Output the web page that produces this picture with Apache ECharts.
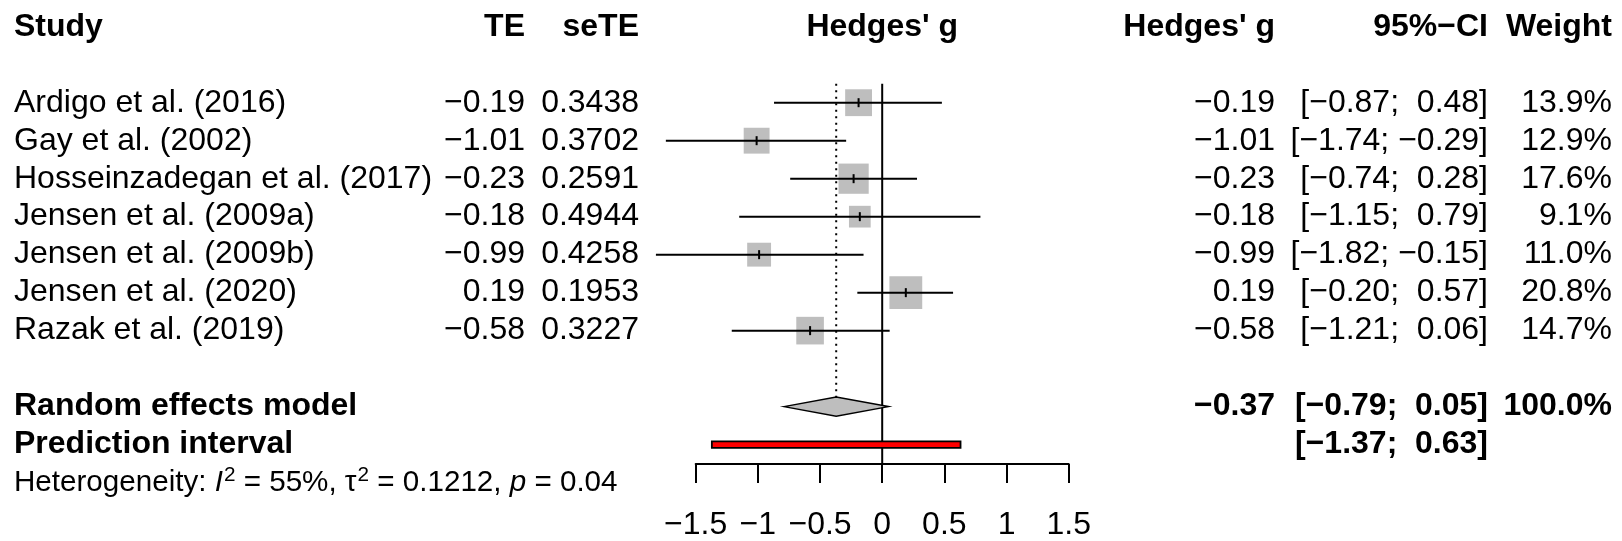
<!DOCTYPE html>
<html>
<head>
<meta charset="utf-8">
<script src="https://cdn.jsdelivr.net/npm/echarts@6/dist/echarts.min.js"></script>
<style>
html,body{margin:0;padding:0;background:#fff;}
#chart{width:1622px;height:541px;}
</style>
</head>
<body>
<div id="chart"></div>
<script>
// ---- data ----
const studies = ["Ardigo et al. (2016)", "Gay et al. (2002)", "Hosseinzadegan et al. (2017)",
  "Jensen et al. (2009a)", "Jensen et al. (2009b)", "Jensen et al. (2020)", "Razak et al. (2019)"];
const te     = [-0.19, -1.01, -0.23, -0.18, -0.99, 0.19, -0.58];
const seTE   = [0.3438, 0.3702, 0.2591, 0.4944, 0.4258, 0.1953, 0.3227];
const lower  = [-0.87, -1.74, -0.74, -1.15, -1.82, -0.20, -1.21];
const upper  = [0.48, -0.29, 0.28, 0.79, -0.15, 0.57, 0.06];
const weight = [13.9, 12.9, 17.6, 9.1, 11.0, 20.8, 14.7];
const pooled = [-0.37, -0.79, 0.05];      // estimate, lower, upper
const pooledWeight = 100.0;
const predInt = [-1.37, 0.63];
const hetI2 = 55, hetTau2 = 0.1212, hetP = 0.04;
const headers = ["Study", "TE", "seTE", "Hedges' g", "Hedges' g", "95%\u2212CI", "Weight"];
const xTicks = [-1.5, -1, -0.5, 0, 0.5, 1, 1.5];
const summaryLabels = ["Random effects model", "Prediction interval"];

// ---- layout ----
const FONT = "Liberation Sans";
const FS = 32;
const ROW_H = 38.4, ROW0 = 27;      // pixel of row 0 centre
const AXIS_Y = 469;
const GRID_L = 695.7, GRID_W = 373;
const yMin = -ROW0 / ROW_H, yMax = (AXIS_Y - ROW0) / ROW_H;
const STUDY_ROW0 = 2, RE_ROW = 10, PI_ROW = 11, HET_ROW = 12;
const COL = {study: 14, te: 525, sete: 639, g: 1275, ci: 1488, w: 1612};

const fmtNum = (v, d) => (v < 0 ? "\u2212" : "") + Math.abs(v).toFixed(d);
const fmtCI = (l, u) => "[" + fmtNum(l, 2) + "; " + (u < 0 ? "" : " ") + fmtNum(u, 2) + "]";

function txt(x, y, s, align, bold) {
  return {type: 'text', x: x, y: y, style: {text: s, fontFamily: FONT, fontSize: FS,
    fontWeight: bold ? 'bold' : 'normal', fill: '#000', align: align, verticalAlign: 'middle'}};
}

const studyData = studies.map((s, i) => [te[i], STUDY_ROW0 + i, lower[i], upper[i], weight[i], seTE[i]]);

const chart = echarts.init(document.getElementById('chart'), null, {renderer: 'canvas'});
chart.setOption({
  animation: false,
  backgroundColor: '#fff',
  grid: {left: GRID_L, width: GRID_W, top: 0, height: AXIS_Y, containLabel: false},
  xAxis: {
    type: 'value', min: -1.5, max: 1.5, interval: 0.5,
    axisLine: {show: true, onZero: false, lineStyle: {color: '#000', width: 2}},
    axisTick: {show: true, length: 19, lineStyle: {color: '#000', width: 2}},
    axisLabel: {color: '#000', fontFamily: FONT, fontSize: FS, margin: 45,
      formatter: v => (v < 0 ? "\u2212" : "") + String(Math.abs(v))},
    splitLine: {show: false}
  },
  yAxis: {type: 'value', inverse: true, min: yMin, max: yMax, show: false},
  series: [
    // reference lines, summary diamond, prediction interval
    {
      type: 'custom', clip: false, silent: true, z: 1,
      data: [[pooled[0], RE_ROW, pooled[1], pooled[2], predInt[0], predInt[1]]],
      renderItem: function (params, api) {
        const est = api.value(0), row = api.value(1), lo = api.value(2), up = api.value(3);
        const pl = api.value(4), pu = api.value(5);
        const z0 = api.coord([0, STUDY_ROW0 - 0.5]);
        const z1 = api.coord([0, yMax]);
        const d0 = api.coord([est, STUDY_ROW0 - 0.5]);
        const dh = 9.5;
        const c = api.coord([est, row]);
        const l = api.coord([lo, row]);
        const u = api.coord([up, row]);
        const p1 = api.coord([pl, PI_ROW]);
        const p2 = api.coord([pu, PI_ROW]);
        return {type: 'group', children: [
          {type: 'line', shape: {x1: z0[0], y1: z0[1], x2: z1[0], y2: z1[1]},
            style: {stroke: '#000', lineWidth: 2}},
          {type: 'line', shape: {x1: d0[0], y1: d0[1], x2: c[0], y2: c[1] - dh},
            style: {stroke: '#000', lineWidth: 2, lineDash: [2, 4.5]}},
          {type: 'polygon', shape: {points: [[l[0], l[1]], [c[0], c[1] - dh], [u[0], u[1]], [c[0], c[1] + dh]]},
            style: {fill: '#BEBEBE', stroke: '#000', lineWidth: 1.5}},
          {type: 'rect', shape: {x: p1[0], y: p1[1] - 3.2, width: p2[0] - p1[0], height: 6.4},
            style: {fill: '#FF0000', stroke: '#000', lineWidth: 1.8}}
        ]};
      }
    },
    // study CIs, squares, ticks
    {
      type: 'custom', clip: false, silent: true, z: 2,
      data: studyData,
      renderItem: function (params, api) {
        const est = api.value(0), row = api.value(1), lo = api.value(2), up = api.value(3), w = api.value(4);
        const c = api.coord([est, row]);
        const l = api.coord([lo, row]);
        const u = api.coord([up, row]);
        const side = 7.2 * Math.sqrt(w);
        return {type: 'group', children: [
          {type: 'rect', shape: {x: c[0] - side / 2, y: c[1] - side / 2, width: side, height: side},
            style: {fill: '#BEBEBE'}},
          {type: 'line', shape: {x1: l[0], y1: l[1], x2: u[0], y2: u[1]},
            style: {stroke: '#000', lineWidth: 2}},
          {type: 'line', shape: {x1: c[0], y1: c[1] - 4.5, x2: c[0], y2: c[1] + 4.5},
            style: {stroke: '#000', lineWidth: 2}}
        ]};
      }
    },
    // study text columns
    {
      type: 'custom', clip: false, silent: true, z: 3,
      data: studyData,
      renderItem: function (params, api) {
        const i = params.dataIndex;
        const row = api.value(1);
        const y = api.coord([0, row])[1];
        return {type: 'group', children: [
          txt(COL.study, y, studies[i], 'left', false),
          txt(COL.te, y, fmtNum(api.value(0), 2), 'right', false),
          txt(COL.sete, y, api.value(5).toFixed(4), 'right', false),
          txt(COL.g, y, fmtNum(api.value(0), 2), 'right', false),
          txt(COL.ci, y, fmtCI(api.value(2), api.value(3)), 'right', false),
          txt(COL.w, y, api.value(4).toFixed(1) + "%", 'right', false)
        ]};
      }
    },
    // headers, summary text, heterogeneity
    {
      type: 'custom', clip: false, silent: true, z: 3,
      data: [[0, 0]],
      renderItem: function (params, api) {
        const yH = api.coord([0, 0])[1];
        const yRE = api.coord([0, RE_ROW])[1];
        const yPI = api.coord([0, PI_ROW])[1];
        const yHet = api.coord([0, HET_ROW])[1];
        const xc = api.coord([0, 0])[0];
        const hetFS = 29.6;
        return {type: 'group', children: [
          txt(COL.study, yH, headers[0], 'left', true),
          txt(COL.te, yH, headers[1], 'right', true),
          txt(COL.sete, yH, headers[2], 'right', true),
          txt(xc, yH, headers[3], 'center', true),
          txt(COL.g, yH, headers[4], 'right', true),
          txt(COL.ci, yH, headers[5], 'right', true),
          txt(COL.w, yH, headers[6], 'right', true),
          txt(COL.study, yRE, summaryLabels[0], 'left', true),
          txt(COL.g, yRE, fmtNum(pooled[0], 2), 'right', true),
          txt(COL.ci, yRE, fmtCI(pooled[1], pooled[2]), 'right', true),
          txt(COL.w, yRE, pooledWeight.toFixed(1) + "%", 'right', true),
          txt(COL.study, yPI, summaryLabels[1], 'left', true),
          txt(COL.ci, yPI, fmtCI(predInt[0], predInt[1]), 'right', true),
          {type: 'text', x: COL.study, y: yHet, style: {
            text: "Heterogeneity: {it|I}{sup|2} = " + hetI2 + "%, {n|\u03c4}{sup|2} = " + hetTau2.toFixed(4) +
                  ", {it|p} = " + hetP.toFixed(2),
            fontFamily: FONT, fontSize: hetFS, fill: '#000', align: 'left', verticalAlign: 'middle',
            lineHeight: 35,
            rich: {
              it: {fontFamily: FONT, fontSize: hetFS, fontStyle: 'italic', fill: '#000', lineHeight: 35},
              n: {fontFamily: FONT, fontSize: hetFS, fill: '#000', lineHeight: 35},
              sup: {fontFamily: FONT, fontSize: hetFS * 0.7, fill: '#000', verticalAlign: 'top', lineHeight: 18, padding: [0, 0, 0, 1]}
            }
          }}
        ]};
      }
    }
  ]
});
</script>
</body>
</html>
